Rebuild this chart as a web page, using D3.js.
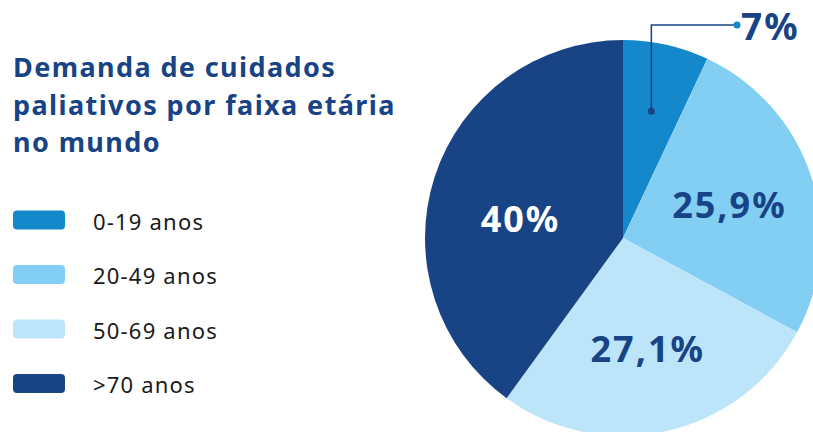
<!DOCTYPE html>
<html>
<head>
<meta charset="utf-8">
<script src="https://cdn.jsdelivr.net/npm/d3@7"></script>
<style>
  body { margin: 0; background: #fff; }
  svg { display: block; }
</style>
</head>
<body>
<svg id="chart" width="813" height="432"></svg>
<script>
// data
const categories = ["0-19 anos", "20-49 anos", "50-69 anos", ">70 anos"];
const values = [7, 25.9, 27.1, 40];
const valueLabels = ["7%", "25,9%", "27,1%", "40%"];
const colors = ["#1488ca", "#83cff4", "#bde5f9", "#184385"];
const titleLines = ["Demanda de cuidados", "paliativos por faixa etária", "no mundo"];

const svg = d3.select("#chart");
const dark = "#184385";
const font = "'Noto Sans', sans-serif";

// title
svg.append("g").selectAll("text")
  .data(titleLines)
  .join("text")
  .attr("x", 13)
  .attr("y", (d, i) => 77 + i * 37.5)
  .style("font-family", font)
  .style("font-weight", 700)
  .style("font-size", "27px")
  .style("letter-spacing", "1.4px")
  .style("fill", dark)
  .text(d => d);

// legend
const legend = svg.append("g").selectAll("g")
  .data(categories)
  .join("g")
  .attr("transform", (d, i) => `translate(13, ${220 + i * 54.5})`);

legend.append("rect")
  .attr("x", 0).attr("y", -9.5)
  .attr("width", 52).attr("height", 19)
  .attr("rx", 4)
  .attr("fill", (d, i) => colors[i]);

legend.append("text")
  .attr("x", 80).attr("y", 2)
  .attr("dy", "0.36em")
  .style("font-family", font)
  .style("font-size", "22px")
  .style("letter-spacing", "1.2px")
  .style("fill", "#1a1a1a")
  .text(d => d);

// pie
const cx = 623, cy = 238, r = 198;
const pie = d3.pie().sort(null).value(d => d);
const arcs = pie(values);
const arc = d3.arc().innerRadius(0).outerRadius(r);
const labelArc = d3.arc().innerRadius(112).outerRadius(112);
const calloutArc = d3.arc().innerRadius(130).outerRadius(130);

const g = svg.append("g").attr("transform", `translate(${cx},${cy})`);

g.selectAll("path")
  .data(arcs)
  .join("path")
  .attr("d", arc)
  .attr("fill", (d, i) => colors[i]);

// labels inside the bigger slices (the big slice label sits a bit lower)
g.selectAll("text.val")
  .data(arcs.filter(d => d.index > 0))
  .join("text")
  .attr("class", "val")
  .attr("transform", d => {
    const c = labelArc.centroid(d);
    return `translate(${c[0] + (d.index === 3 ? 4 : 0)},${c[1] + (d.index === 3 ? 16 : 2)})`;
  })
  .attr("text-anchor", "middle")
  .attr("dy", "0.36em")
  .style("font-family", font)
  .style("font-weight", 700)
  .style("font-size", "36px")
  .style("letter-spacing", "2px")
  .style("fill", d => d.index === 3 ? "#fff" : dark)
  .text(d => valueLabels[d.index]);

// callout for the small slice
const small = arcs[0];
const p = calloutArc.centroid(small);
const topY = -213, endX = 114;
g.append("path")
  .attr("d", `M${p[0]},${p[1]}V${topY}H${endX}`)
  .attr("fill", "none")
  .attr("stroke", dark)
  .attr("stroke-width", 1.5);
g.append("circle").attr("cx", p[0]).attr("cy", p[1]).attr("r", 3.5).attr("fill", dark);
g.append("circle").attr("cx", endX).attr("cy", topY).attr("r", 3.5).attr("fill", colors[0]);
g.append("text")
  .attr("x", endX + 4)
  .attr("y", topY + 15)
  .style("font-family", font)
  .style("font-weight", 700)
  .style("font-size", "37px")
  .style("letter-spacing", "2px")
  .style("fill", dark)
  .text(valueLabels[0]);
</script>
</body>
</html>
